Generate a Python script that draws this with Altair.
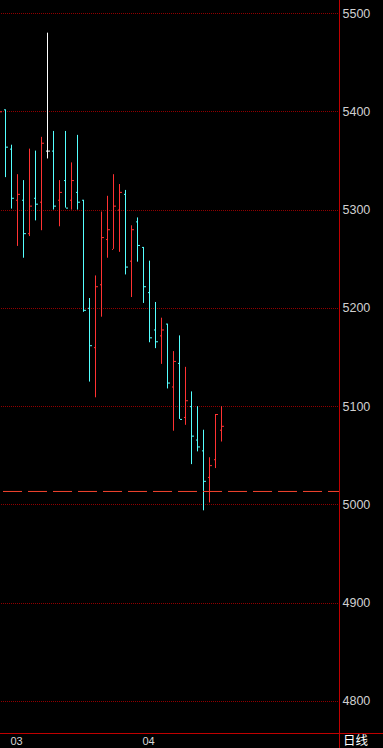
import altair as alt
import pandas as pd

# Daily OHLC bars (index -1 is the partly visible bar at the left edge)
bar_index = list(range(-1, 37))
opens = [5385, 5402, 5362, 5310, 5310, 5276, 5312, 5308, 5360, 5360, 5310, 5330, 5310, 5318, 5310,
         5200, 5160, 5224, 5270, 5260, 5300, 5316, 5248, 5288, 5262, 5216, 5178, 5172, 5184, 5120,
         5144, 5089, 5100, 5066, 5055, 5028, 5046, 5076]
highs = [5405, 5402, 5366, 5336, 5330, 5362, 5360, 5374, 5480, 5380, 5330, 5380, 5348, 5376, 5310,
         5210, 5233, 5298, 5314, 5336, 5326, 5320, 5284, 5292, 5262, 5248, 5206, 5190, 5184, 5156,
         5172, 5140, 5115, 5100, 5076, 5048, 5092, 5100]
lows = [5370, 5333, 5301, 5263, 5251, 5273, 5289, 5279, 5352, 5300, 5283, 5302, 5300, 5300, 5196,
        5125, 5109, 5191, 5251, 5260, 5257, 5234, 5211, 5247, 5205, 5165, 5159, 5143, 5118, 5075,
        5087, 5081, 5041, 5054, 4994, 5002, 5037, 5064]
closes = [5400, 5364, 5312, 5316, 5276, 5304, 5306, 5368, 5360, 5304, 5318, 5302, 5330, 5308, 5198,
          5162, 5222, 5272, 5280, 5304, 5318, 5242, 5280, 5264, 5222, 5170, 5166, 5178, 5124, 5146,
          5087, 5106, 5070, 5059, 5024, 5040, 5092, 5080]

month_index = [1, 23]
month_labels = ["03", "04"]
ref_level = [5013.7]
y_ticks = [4800, 4900, 5000, 5100, 5200, 5300, 5400, 5500]
period_label = "日线"

UP, DOWN, FLAT = "#ff3232", "#54ffff", "#ffffff"
GRID = "#900000"
FRAME = "#c00000"

df = pd.DataFrame({"i": bar_index, "open": opens, "high": highs, "low": lows, "close": closes})
df["dir"] = ["up" if c > o else ("down" if c < o else "flat") for o, c in zip(opens, closes)]

W, H = 339, 733
x_scale = alt.Scale(domain=[-5.5 / 6, -5.5 / 6 + W / 6], nice=False, zero=False)
y_scale = alt.Scale(domain=[5500 - 720 / 0.982857, 5500 + 13 / 0.982857], nice=False, zero=False)
color = alt.Color("dir:N", scale=alt.Scale(domain=["up", "down", "flat"], range=[UP, DOWN, FLAT]), legend=None)

base = alt.Chart(df)
X = alt.X("i:Q", scale=x_scale, axis=None)

hl = base.mark_rule(strokeWidth=1, clip=True).encode(
    x=X,
    y=alt.Y("low:Q", scale=y_scale, axis=alt.Axis(
        orient="right", values=y_ticks, format="d", grid=True, gridDash=[1, 1], gridDashOffset=0.5,
        gridColor=GRID, gridOpacity=1,
        domain=False, ticks=False, tickSize=0, labelPadding=3, labelColor="#d0d0d0",
        labelFont="Liberation Sans", labelFontSize=12.5, labelAlign="left", labelBaseline="middle",
        title=None)),
    y2="high:Q",
    color=color,
)
open_tick = base.mark_rule(strokeWidth=1, clip=True, xOffset=-1.5, x2Offset=-0.5, yOffset=0.5).encode(
    x=X, x2="i:Q", y=alt.Y("open:Q", scale=y_scale), color=color)
close_tick = base.mark_rule(strokeWidth=1, clip=True, xOffset=0.5, x2Offset=2.5, yOffset=0.5).encode(
    x=X, x2="i:Q", y=alt.Y("close:Q", scale=y_scale), color=color)

ref = alt.Chart(pd.DataFrame({"v": ref_level})).mark_rule(
    color="#f5442e", strokeWidth=1, strokeDash=[19, 6], strokeDashOffset=8, yOffset=0.5
).encode(y=alt.Y("v:Q", scale=y_scale))

dummy = alt.Chart(pd.DataFrame({"a": [0]}))
frame_v = dummy.mark_rule(color=FRAME, strokeWidth=1).encode(
    x=alt.value(339.5), y=alt.value(0), y2=alt.value(748))
frame_h = dummy.mark_rule(color=FRAME, strokeWidth=1).encode(
    x=alt.value(0), x2=alt.value(383), y=alt.value(733.5))

months = alt.Chart(pd.DataFrame({"i": month_index, "label": month_labels})).mark_text(
    align="left", baseline="middle", color="#d8d8d8", font="Liberation Sans", fontSize=11, dx=-1
).encode(x=alt.X("i:Q", scale=x_scale), y=alt.value(741.5), text="label:N")

period = dummy.mark_text(
    align="left", baseline="middle", color="#ffffff", font="Noto Sans CJK SC", fontSize=12.5,
    text=period_label
).encode(x=alt.value(343), y=alt.value(740.5))

chart = alt.layer(hl, open_tick, close_tick, ref, frame_v, frame_h, months, period).properties(
    width=W, height=H,
    padding={"left": 0, "top": 0, "right": 44, "bottom": 15},
    autosize=alt.AutoSizeParams(type="none"),
    background="#000000",
).configure_view(stroke=None)

chart.save("out.html", embed_options={"renderer": "svg", "actions": False})
